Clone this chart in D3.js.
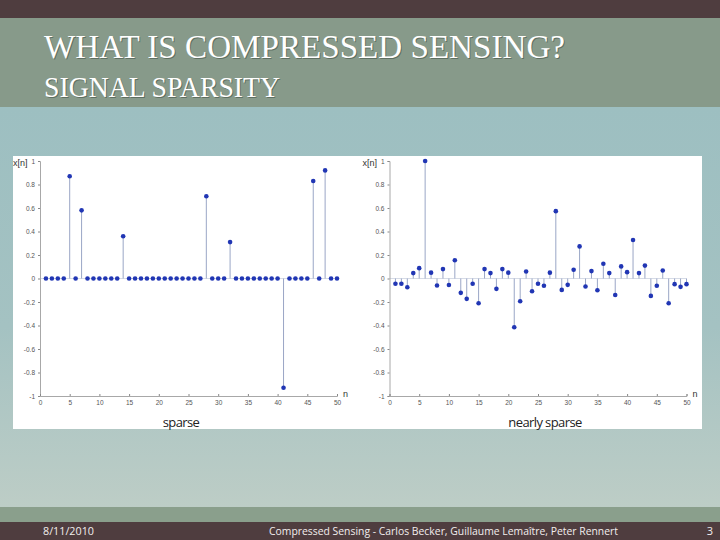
<!DOCTYPE html>
<html>
<head>
<meta charset="utf-8">
<script src="https://cdn.jsdelivr.net/npm/d3@7"></script>
<style>
  html, body { margin: 0; padding: 0; background: #9ebfc1; }
  svg { display: block; }
</style>
</head>
<body>
<div id="slide"></div>
<script>
// ---- data ----
var sampleIdx = d3.range(1, 51);   // n = 1..50
var sparseVals = [
  0, 0, 0, 0, 0.87, 0, 0.58, 0, 0, 0,
  0, 0, 0, 0.36, 0, 0, 0, 0, 0, 0,
  0, 0, 0, 0, 0, 0, 0, 0.70, 0, 0,
  0, 0.31, 0, 0, 0, 0, 0, 0, 0, 0,
  -0.93, 0, 0, 0, 0, 0.83, 0, 0.92, 0, 0
];
var nearlyVals = [
  -0.045, -0.045, -0.075, 0.046, 0.088, 1.0, 0.05, -0.06, 0.08, -0.055,
  0.155, -0.122, -0.173, -0.045, -0.21, 0.08, 0.046, -0.088, 0.08, 0.05,
  -0.415, -0.193, 0.06, -0.108, -0.045, -0.062, 0.05, 0.573, -0.097, -0.054,
  0.074, 0.273, -0.068, 0.063, -0.10, 0.125, 0.046, -0.14, 0.103, 0.054,
  0.328, 0.046, 0.11, -0.148, -0.062, 0.068, -0.21, -0.048, -0.071, -0.048
];
var xTicks = [0, 5, 10, 15, 20, 25, 30, 35, 40, 45, 50];
var yTicks = [-1, -0.8, -0.6, -0.4, -0.2, 0, 0.2, 0.4, 0.6, 0.8, 1];
var captions = ['sparse', 'nearly sparse'];
var titleText = 'WHAT IS COMPRESSED SENSING?';
var subtitleText = 'SIGNAL SPARSITY';
var footerDate = '8/11/2010';
var footerMid = 'Compressed Sensing - Carlos Becker, Guillaume Lemaître, Peter Rennert';
var footerPage = '3';

var W = 720, H = 540;
var svg = d3.select('#slide').append('svg').attr('width', W).attr('height', H);
var defs = svg.append('defs');

// background bands
var bg = defs.append('linearGradient').attr('id', 'bgGrad').attr('x1', 0).attr('y1', 0).attr('x2', 0).attr('y2', 1);
bg.append('stop').attr('offset', '0%').attr('stop-color', '#9dbfc1');
bg.append('stop').attr('offset', '55%').attr('stop-color', '#a4c2c2');
bg.append('stop').attr('offset', '100%').attr('stop-color', '#bdcdc6');
svg.append('rect').attr('x', 0).attr('y', 107).attr('width', W).attr('height', 400).attr('fill', 'url(#bgGrad)');
svg.append('rect').attr('x', 0).attr('y', 18).attr('width', W).attr('height', 89).attr('fill', '#879a8a');
svg.append('rect').attr('x', 0).attr('y', 0).attr('width', W).attr('height', 18).attr('fill', '#4f3d3f');
svg.append('rect').attr('x', 0).attr('y', 507).attr('width', W).attr('height', 15).attr('fill', '#8a9f8c');
svg.append('rect').attr('x', 0).attr('y', 522).attr('width', W).attr('height', 18).attr('fill', '#4f3d3f');

// title + subtitle with soft shadow
function shadowText(x, y, txt, size, len) {
  [['#3c4a40', 1], ['#ffffff', 0]].forEach(function(s) {
    svg.append('text').attr('x', x + s[1]).attr('y', y + s[1])
      .attr('font-family', 'Liberation Serif, DejaVu Serif, serif')
      .attr('font-size', size).attr('fill', s[0]).attr('fill-opacity', s[1] ? 0.55 : 1)
      .attr('textLength', len).attr('lengthAdjust', 'spacingAndGlyphs')
      .text(txt);
  });
}
shadowText(44, 58, titleText, 34, 521);
shadowText(44, 97, subtitleText, 29, 236);

// white figure panel
svg.append('rect').attr('x', 13).attr('y', 156).attr('width', 689).attr('height', 273).attr('fill', '#ffffff');

var y = d3.scaleLinear().domain([-1, 1]).range([396, 161]);

function stemPlot(x0, vals, caption, capX) {
  var x = d3.scaleLinear().domain([0, 50]).range([x0, x0 + 297]);
  var g = svg.append('g');

  // zero baseline
  g.append('line').attr('x1', x(0)).attr('x2', x(50)).attr('y1', y(0)).attr('y2', y(0))
    .attr('stroke', '#d6dbe6').attr('stroke-width', 1);

  var yAxis = d3.axisLeft(y).tickValues(yTicks).tickSize(2).tickPadding(3)
    .tickFormat(function(d) { return d === 0 ? '0' : d3.format('.1~f')(d).replace('−', '-'); });
  var ya = g.append('g').attr('transform', 'translate(' + x(0) + ',0)').call(yAxis);
  var xAxis = d3.axisBottom(x).tickValues(xTicks).tickSize(-2).tickPadding(4);
  var xa = g.append('g').attr('transform', 'translate(0,' + y(-1) + ')').call(xAxis);
  [ya, xa].forEach(function(a) {
    a.select('.domain').attr('stroke', '#a8a8a8');
    a.selectAll('.tick line').attr('stroke', '#888');
    a.selectAll('.tick text').attr('fill', '#555').attr('font-size', 6.5)
      .attr('font-family', 'Liberation Sans, Arial, sans-serif');
  });

  g.append('text').attr('x', x0 - 27).attr('y', 166).attr('font-size', 9).attr('fill', '#333')
    .attr('font-family', 'Liberation Sans, Arial, sans-serif').text('x[n]');
  g.append('text').attr('x', x(50) + 6).attr('y', y(-1) + 1).attr('font-size', 9).attr('fill', '#333')
    .attr('font-family', 'Liberation Sans, Arial, sans-serif').text('n');

  g.selectAll('line.stem').data(vals).join('line').attr('class', 'stem')
    .attr('x1', function(d, i) { return x(sampleIdx[i]); })
    .attr('x2', function(d, i) { return x(sampleIdx[i]); })
    .attr('y1', y(0)).attr('y2', function(d) { return y(d); })
    .attr('stroke', '#9aa6c6').attr('stroke-width', 1);
  g.selectAll('circle.dot').data(vals).join('circle').attr('class', 'dot')
    .attr('cx', function(d, i) { return x(sampleIdx[i]); })
    .attr('cy', function(d) { return y(d); })
    .attr('r', 2.3).attr('fill', '#2136b4');

  g.append('text').attr('x', capX).attr('y', 427).attr('text-anchor', 'middle')
    .attr('font-family', 'Open Sans, Liberation Sans, sans-serif').attr('font-size', 13)
    .attr('letter-spacing', -0.6).attr('fill', '#222').text(caption);
}
stemPlot(40, sparseVals, captions[0], 181);
stemPlot(389.5, nearlyVals, captions[1], 545);

// footer
var ff = 'Open Sans, Liberation Sans, sans-serif';
svg.append('text').attr('x', 43).attr('y', 535).attr('font-family', ff).attr('font-size', 11)
  .attr('fill', '#f2eeee').attr('textLength', 51).attr('lengthAdjust', 'spacingAndGlyphs').text(footerDate);
svg.append('text').attr('x', 269).attr('y', 535).attr('font-family', ff).attr('font-size', 11)
  .attr('fill', '#f2eeee').attr('textLength', 349).attr('lengthAdjust', 'spacingAndGlyphs').text(footerMid);
svg.append('text').attr('x', 710).attr('y', 535).attr('text-anchor', 'middle').attr('font-family', ff).attr('font-size', 11)
  .attr('fill', '#f2eeee').text(footerPage);
</script>
</body>
</html>
